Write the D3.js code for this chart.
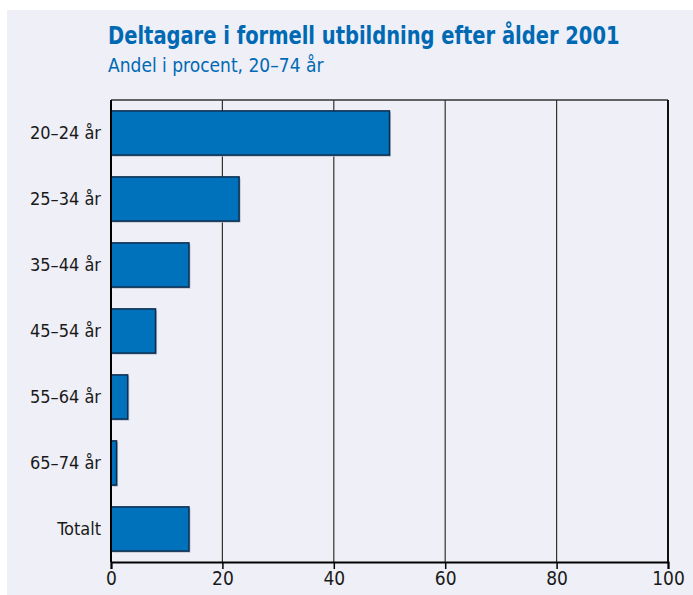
<!DOCTYPE html>
<html>
<head>
<meta charset="utf-8">
<script src="https://cdn.jsdelivr.net/npm/d3@7"></script>
<style>
body { margin: 0; background: #fff; }
svg { display: block; }
</style>
</head>
<body>
<svg width="693" height="595"></svg>
<script>
var categories = ["20–24 år", "25–34 år", "35–44 år", "45–54 år", "55–64 år", "65–74 år", "Totalt"];
var values = [50, 23, 14, 8, 3, 1, 14];
var xTicks = [0, 20, 40, 60, 80, 100];

var svg = d3.select("svg"),
    width = +svg.attr("width"),
    height = +svg.attr("height");

var font = "'Liberation Sans Narrow', 'DejaVu Sans Condensed', 'Roboto Condensed', sans-serif";
var margin = {top: 100, right: 25, bottom: 33, left: 111};

svg.append("rect")
    .attr("x", 7).attr("y", 10)
    .attr("width", width - 7).attr("height", height - 10)
    .attr("fill", "#eeeff7");

// the original uses a condensed face: squeeze each title to its width
function fitText(sel, x0, y0, w) {
  var n = sel.node().getComputedTextLength();
  var s = Math.min(1, w / n);
  sel.attr("transform", "translate(" + x0 + "," + y0 + ") scale(" + s + ",1)");
}

var title = svg.append("text")
    .attr("font-family", font).attr("font-weight", "bold")
    .attr("font-size", 25).attr("fill", "#0069b4")
    .text("Deltagare i formell utbildning efter ålder 2001");
fitText(title, 108, 44, 512);

var subtitle = svg.append("text")
    .attr("font-family", font)
    .attr("font-size", 19).attr("fill", "#0069b4")
    .text("Andel i procent, 20–74 år");
fitText(subtitle, 108, 72, 224);

var x = d3.scaleLinear().domain([0, 100]).range([margin.left, width - margin.right]);
var y = d3.scaleBand().domain(categories)
    .range([margin.top, height - margin.bottom])
    .paddingInner(0.33).paddingOuter(0.165);

// frame + grid
svg.append("line")
    .attr("x1", x(0)).attr("x2", x(100))
    .attr("y1", margin.top).attr("y2", margin.top)
    .attr("stroke", "#333").attr("stroke-width", 1.5);

svg.append("g")
    .selectAll("line")
    .data(xTicks.slice(1))
    .enter().append("line")
    .attr("x1", function(d) { return x(d); })
    .attr("x2", function(d) { return x(d); })
    .attr("y1", margin.top)
    .attr("y2", height - margin.bottom)
    .attr("stroke", function(d) { return d == 100 ? "#111" : "#333"; })
    .attr("stroke-width", function(d) { return d == 100 ? 2 : 1.2; });

// bar shadows
svg.append("g")
    .selectAll("rect")
    .data(values)
    .enter().append("rect")
    .attr("x", x(0) + 1.5)
    .attr("y", function(d, i) { return y(categories[i]) + 1.5; })
    .attr("width", function(d) { return x(d) - x(0); })
    .attr("height", y.bandwidth())
    .attr("fill", "#b8bcc8");

svg.append("g")
    .selectAll("rect")
    .data(values)
    .enter().append("rect")
    .attr("x", x(0))
    .attr("y", function(d, i) { return y(categories[i]); })
    .attr("width", function(d) { return x(d) - x(0); })
    .attr("height", y.bandwidth())
    .attr("fill", "#0071bb")
    .attr("stroke", "#0d2d4f")
    .attr("stroke-width", 1.5);

// y axis
svg.append("line")
    .attr("x1", x(0)).attr("x2", x(0))
    .attr("y1", margin.top).attr("y2", height - margin.bottom)
    .attr("stroke", "#000").attr("stroke-width", 2);

svg.append("g")
    .selectAll("text")
    .data(categories)
    .enter().append("text")
    .attr("x", 101)
    .attr("y", function(d) { return y(d) + y.bandwidth() / 2; })
    .attr("dy", "0.35em")
    .attr("text-anchor", "end")
    .attr("font-family", font).attr("font-size", 18)
    .attr("fill", "#1a1a1a")
    .text(function(d) { return d; });

// x axis
var xAxis = svg.append("g")
    .attr("transform", "translate(0," + (height - margin.bottom) + ")")
    .call(d3.axisBottom(x).tickValues(xTicks).tickSize(7).tickPadding(3));

xAxis.select(".domain").attr("stroke", "#000").attr("stroke-width", 2);
xAxis.selectAll(".tick line").attr("stroke", "#000").attr("stroke-width", 1.5);
xAxis.selectAll("text")
    .attr("font-family", font).attr("font-size", 19)
    .attr("fill", "#1a1a1a");
</script>
</body>
</html>
